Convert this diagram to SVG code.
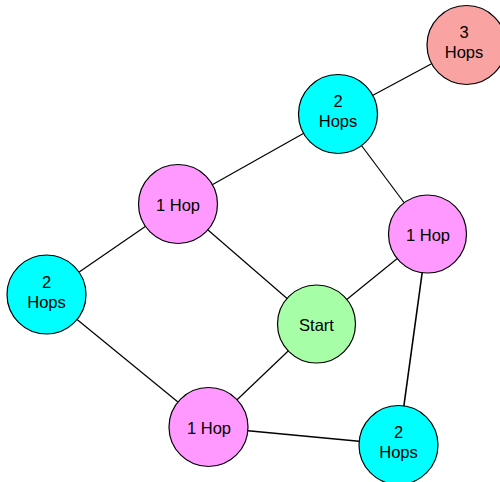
<svg xmlns="http://www.w3.org/2000/svg" width="500" height="482" viewBox="0 0 500 482">
<style>
.n{stroke:#000;stroke-width:1.2}
.c{fill:#00ffff}.p{fill:#ff99ff}.g{fill:#a6ffa6}.r{fill:#f9a3a3}
text{font-family:"Liberation Sans",Arial,sans-serif;font-size:16.5px;fill:#000;text-anchor:middle}
#edges line{stroke:#000;stroke-width:1.2}
</style>
<rect width="500" height="482" fill="#fff"/>
<g id="edges">
<line x1="466.5" y1="45" x2="338" y2="114"/>
<line x1="338" y1="114" x2="178" y2="204"/>
<line x1="338" y1="114" x2="427.5" y2="234"/>
<line x1="178" y1="204" x2="46.5" y2="294.5"/>
<line x1="178" y1="204" x2="316.5" y2="324"/>
<line x1="427.5" y1="234" x2="316.5" y2="324"/>
<line x1="427.5" y1="234" x2="398.5" y2="445" style="stroke-width:1.6"/>
<line x1="46.5" y1="294.5" x2="208.5" y2="427"/>
<line x1="316.5" y1="324" x2="208.5" y2="427"/>
<line x1="208.5" y1="427" x2="398.5" y2="445" style="stroke-width:1.6"/>
</g>
<g id="n3hops"><circle class="n r" cx="466.5" cy="45" r="39.5"/><text x="464" y="38">3</text><text x="464" y="58">Hops</text></g>
<g id="n2hops-top"><circle class="n c" cx="338" cy="114" r="39.5"/><text x="338" y="107">2</text><text x="338" y="127">Hops</text></g>
<g id="n1hop-left"><circle class="n p" cx="178" cy="204" r="39.5"/><text x="178" y="211">1 Hop</text></g>
<g id="n1hop-right"><circle class="n p" cx="427.5" cy="234" r="39"/><text x="428" y="241">1 Hop</text></g>
<g id="n2hops-left"><circle class="n c" cx="46.5" cy="294.5" r="39.5"/><text x="46.5" y="287.5">2</text><text x="46.5" y="307.5">Hops</text></g>
<g id="start"><circle class="n g" cx="316.5" cy="324" r="39"/><text x="316.5" y="331">Start</text></g>
<g id="n1hop-bottom"><circle class="n p" cx="208.5" cy="427" r="39.5"/><text x="209" y="434">1 Hop</text></g>
<g id="n2hops-bottom"><circle class="n c" cx="398.5" cy="445" r="39.5"/><text x="398.5" y="438">2</text><text x="398.5" y="458">Hops</text></g>
</svg>
